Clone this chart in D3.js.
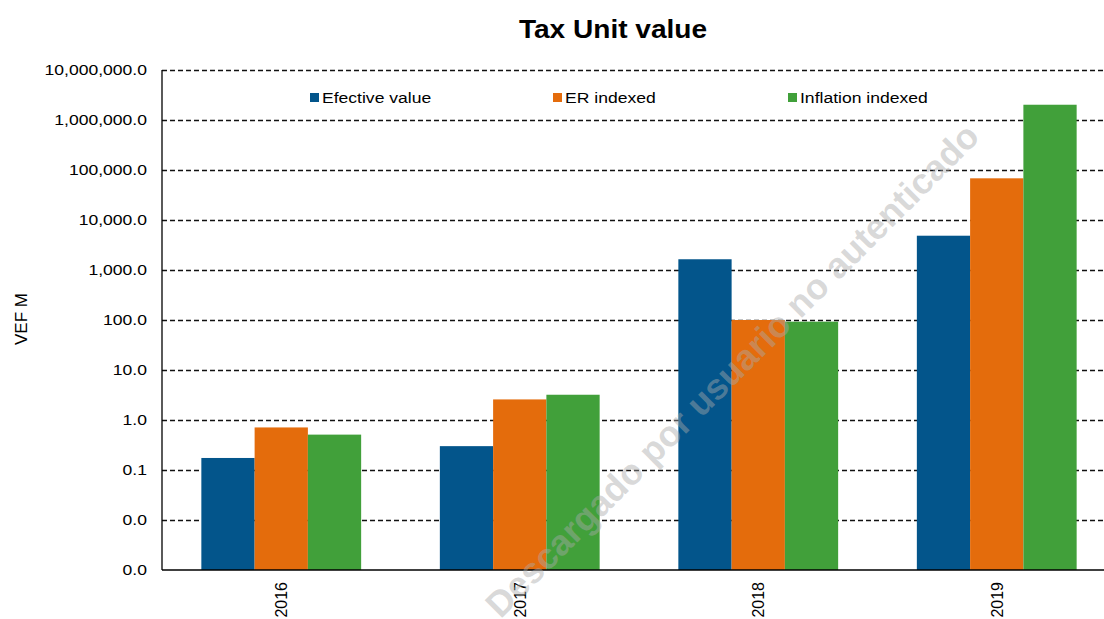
<!DOCTYPE html>
<html>
<head>
<meta charset="utf-8">
<script src="https://cdn.jsdelivr.net/npm/d3@7"></script>
<style>
  body { margin: 0; background: #fff; }
  svg { font-family: "Liberation Sans", Arial, sans-serif; }
</style>
</head>
<body>
<div id="chart"></div>
<script>
// data (VEF M, log scale)
var years = ["2016", "2017", "2018", "2019"];
var seriesNames = ["Efective value", "ER indexed", "Inflation indexed"];
var seriesColors = ["#03558b", "#e46c0c", "#41a03a"];
var efectiveValue = [0.174, 0.30, 1640, 4850];
var erIndexed = [0.71, 2.58, 100, 68200];
var inflationIndexed = [0.51, 3.2, 92.6, 2020000];
var yTicks = [0.001, 0.01, 0.1, 1, 10, 100, 1000, 10000, 100000, 1000000, 10000000];

var width = 1104, height = 619;
var plotLeft = 162, plotTop = 70, plotBottom = 570;
var stretch = 1.17;

var svg = d3.select("#chart").append("svg")
    .attr("width", width)
    .attr("height", height);

var x = d3.scaleBand()
    .domain(years)
    .range([plotLeft, 1116])
    .paddingInner(0.33)
    .paddingOuter(0.165);

var xs = d3.scaleBand()
    .domain(seriesNames)
    .range([0, x.bandwidth()]);

var y = d3.scaleLog()
    .domain([0.001, 10000000])
    .range([plotBottom, plotTop]);

var fmt = d3.format(",.1f");

// grid lines
svg.append("g")
    .selectAll("line")
    .data(yTicks.filter(function(d){ return d > 0.001; }))
    .enter().append("line")
    .attr("x1", plotLeft)
    .attr("x2", width)
    .attr("y1", function(d){ return Math.round(y(d)) + 0.5; })
    .attr("y2", function(d){ return Math.round(y(d)) + 0.5; })
    .attr("stroke", "#111")
    .attr("stroke-width", 1.3)
    .attr("stroke-dasharray", "5,3");

// bars
var table = years.map(function(yr, i){
    return { year: yr, values: [efectiveValue[i], erIndexed[i], inflationIndexed[i]] };
});

var groups = svg.append("g")
    .selectAll("g")
    .data(table)
    .enter().append("g")
    .attr("transform", function(d){ return "translate(" + x(d.year) + ",0)"; });

groups.selectAll("rect")
    .data(function(d){ return d.values.map(function(v, j){ return { name: seriesNames[j], value: v, color: seriesColors[j] }; }); })
    .enter().append("rect")
    .attr("x", function(d){ return xs(d.name); })
    .attr("width", xs.bandwidth())
    .attr("y", function(d){ return y(d.value); })
    .attr("height", function(d){ return plotBottom - y(d.value); })
    .attr("fill", function(d){ return d.color; });

// axis lines
svg.append("line")
    .attr("x1", plotLeft).attr("x2", plotLeft)
    .attr("y1", plotTop).attr("y2", plotBottom)
    .attr("stroke", "#000").attr("stroke-width", 1.3);
svg.append("line")
    .attr("x1", plotLeft).attr("x2", width)
    .attr("y1", plotBottom).attr("y2", plotBottom)
    .attr("stroke", "#000").attr("stroke-width", 1.5);

// y tick labels
svg.append("g")
    .selectAll("text")
    .data(yTicks)
    .enter().append("text")
    .attr("transform", function(d){ return "translate(147," + y(d) + ") scale(" + stretch + ",1)"; })
    .attr("dy", "0.35em")
    .attr("text-anchor", "end")
    .attr("font-size", 15)
    .attr("fill", "#000")
    .text(function(d){ return fmt(d); });

// x tick labels
svg.append("g")
    .selectAll("text")
    .data(years)
    .enter().append("text")
    .attr("transform", function(d){ return "translate(" + (x(d) + x.bandwidth() / 2 + 6) + ",582) rotate(-90)"; })
    .attr("text-anchor", "end")
    .attr("font-size", 16)
    .attr("fill", "#000")
    .text(function(d){ return d; });

// y axis title
svg.append("text")
    .attr("transform", "translate(27,319) rotate(-90)")
    .attr("text-anchor", "middle")
    .attr("font-size", 17)
    .text("VEF M");

// title
svg.append("text")
    .attr("transform", "translate(613,38) scale(1.08,1)")
    .attr("text-anchor", "middle")
    .attr("font-size", 26)
    .attr("font-weight", "bold")
    .text("Tax Unit value");

// legend
var legendX = [310, 553, 788];
var legend = svg.append("g")
    .selectAll("g")
    .data(seriesNames)
    .enter().append("g")
    .attr("transform", function(d, i){ return "translate(" + legendX[i] + ",98)"; });
legend.append("rect")
    .attr("x", 0).attr("y", -5)
    .attr("width", 9).attr("height", 9)
    .attr("fill", function(d, i){ return seriesColors[i]; });
legend.append("text")
    .attr("transform", "translate(12,0) scale(" + stretch + ",1)")
    .attr("dy", "0.35em")
    .attr("font-size", 15)
    .text(function(d){ return d; });

// watermark
svg.append("text")
    .attr("transform", "translate(732,370) rotate(-45)")
    .attr("text-anchor", "middle")
    .attr("dy", "0.35em")
    .attr("font-size", 36)
    .attr("font-weight", "bold")
    .attr("fill", "#aaa")
    .attr("fill-opacity", 0.45)
    .text("Descargado por usuario no autenticado");
</script>
</body>
</html>
